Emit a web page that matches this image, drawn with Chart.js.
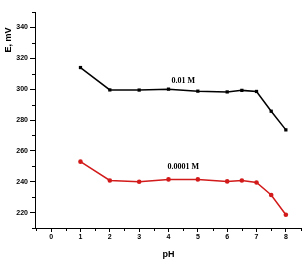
<!DOCTYPE html>
<html>
<head>
<meta charset="utf-8">
<script src="https://cdn.jsdelivr.net/npm/chart.js@4.4.0/dist/chart.umd.min.js"></script>
<style>
  body { margin: 0; background: #fff; }
  #wrap { width: 302px; height: 260px; }
</style>
</head>
<body>
<div id="wrap"><canvas id="phChart"></canvas></div>
<script>
// pH values and potentials
const phValues = [1, 2, 3, 4, 5, 6, 6.5, 7, 7.5, 8];
const e001M = [314, 299.5, 299.4, 300, 298.7, 298.2, 299.2, 298.5, 285.7, 273.6];
const e00001M = [253, 240.8, 240, 241.5, 241.5, 240.2, 240.8, 239.5, 231.4, 218.6];
const seriesLabels = ['0.01 M', '0.0001 M'];
const xTicks = [0, 1, 2, 3, 4, 5, 6, 7, 8];
const yTicks = [220, 240, 260, 280, 300, 320, 340];

function toPoints(ys) {
    return phValues.map((x, i) => ({ x: x, y: ys[i] }));
}

// minor ticks + in-plot labels + y title
const extras = {
    id: 'extras',
    afterDraw(chart) {
        const c = chart.ctx;
        const xs = chart.scales.x, ys = chart.scales.y;
        const area = chart.chartArea;
        c.save();
        c.strokeStyle = '#000';
        c.lineWidth = 1;
        c.beginPath();
        for (let v = -0.5; v <= 8.5; v += 1) {
            const px = Math.round(xs.getPixelForValue(v)) + 0.5;
            c.moveTo(px, area.bottom);
            c.lineTo(px, area.bottom + 3);
        }
        for (let v = 210; v <= 350; v += 20) {
            const py = Math.round(ys.getPixelForValue(v)) + 0.5;
            c.moveTo(area.left, py);
            c.lineTo(area.left - 3, py);
        }
        c.stroke();

        c.fillStyle = '#000';
        c.font = 'bold 8px "Liberation Serif", serif';
        c.textAlign = 'center';
        c.textBaseline = 'middle';
        c.fillText(seriesLabels[0], xs.getPixelForValue(4.5), ys.getPixelForValue(305.2));
        c.fillText(seriesLabels[1], xs.getPixelForValue(4.5), ys.getPixelForValue(249.7));

        c.font = 'bold 9px "Liberation Sans", Arial, sans-serif';
        c.translate(9, 40);
        c.rotate(-Math.PI / 2);
        c.fillText('E, mV', 0, 0);
        c.restore();
    }
};

const ctx = document.getElementById('phChart').getContext('2d');
new Chart(ctx, {
    type: 'line',
    data: {
        datasets: [{
            label: seriesLabels[0],
            data: toPoints(e001M),
            borderColor: '#000',
            backgroundColor: '#000',
            borderWidth: 1.5,
            pointStyle: 'rect',
            pointRadius: 2.3,
            pointBorderWidth: 0,
            tension: 0
        }, {
            label: seriesLabels[1],
            data: toPoints(e00001M),
            borderColor: '#d21a1a',
            backgroundColor: '#d21a1a',
            borderWidth: 1.5,
            pointStyle: 'circle',
            pointRadius: 2.3,
            pointBorderWidth: 0,
            tension: 0
        }]
    },
    options: {
        responsive: true,
        maintainAspectRatio: false,
        animation: false,
        layout: { autoPadding: false, padding: { top: 12, right: 0, left: 0, bottom: 0 } },
        plugins: {
            legend: { display: false },
            tooltip: { enabled: false }
        },
        scales: {
            x: {
                type: 'linear',
                min: -0.55,
                max: 8.55,
                afterBuildTicks: (s) => { s.ticks = xTicks.map(v => ({ value: v })); },
                afterFit: (s) => { s.height = 32; s.paddingLeft = 0; s.paddingRight = 0; },
                border: { color: '#000', width: 1 },
                grid: { drawOnChartArea: false, color: '#000', tickLength: 4 },
                ticks: {
                    color: '#000',
                    padding: 1,
                    font: { family: '"Liberation Sans", Arial, sans-serif', size: 7, weight: 'bold' }
                },
                title: {
                    display: true,
                    text: 'pH',
                    color: '#000',
                    padding: { top: 4, bottom: 0 },
                    font: { family: '"Liberation Sans", Arial, sans-serif', size: 9, weight: 'bold' }
                }
            },
            y: {
                min: 210,
                max: 350,
                afterBuildTicks: (s) => { s.ticks = yTicks.map(v => ({ value: v })); },
                afterFit: (s) => { s.width = 35; },
                border: { color: '#000', width: 1 },
                grid: { drawOnChartArea: false, color: '#000', tickLength: 5 },
                ticks: {
                    color: '#000',
                    padding: 2,
                    font: { family: '"Liberation Sans", Arial, sans-serif', size: 7, weight: 'bold' }
                }
            }
        }
    },
    plugins: [extras]
});
</script>
</body>
</html>
